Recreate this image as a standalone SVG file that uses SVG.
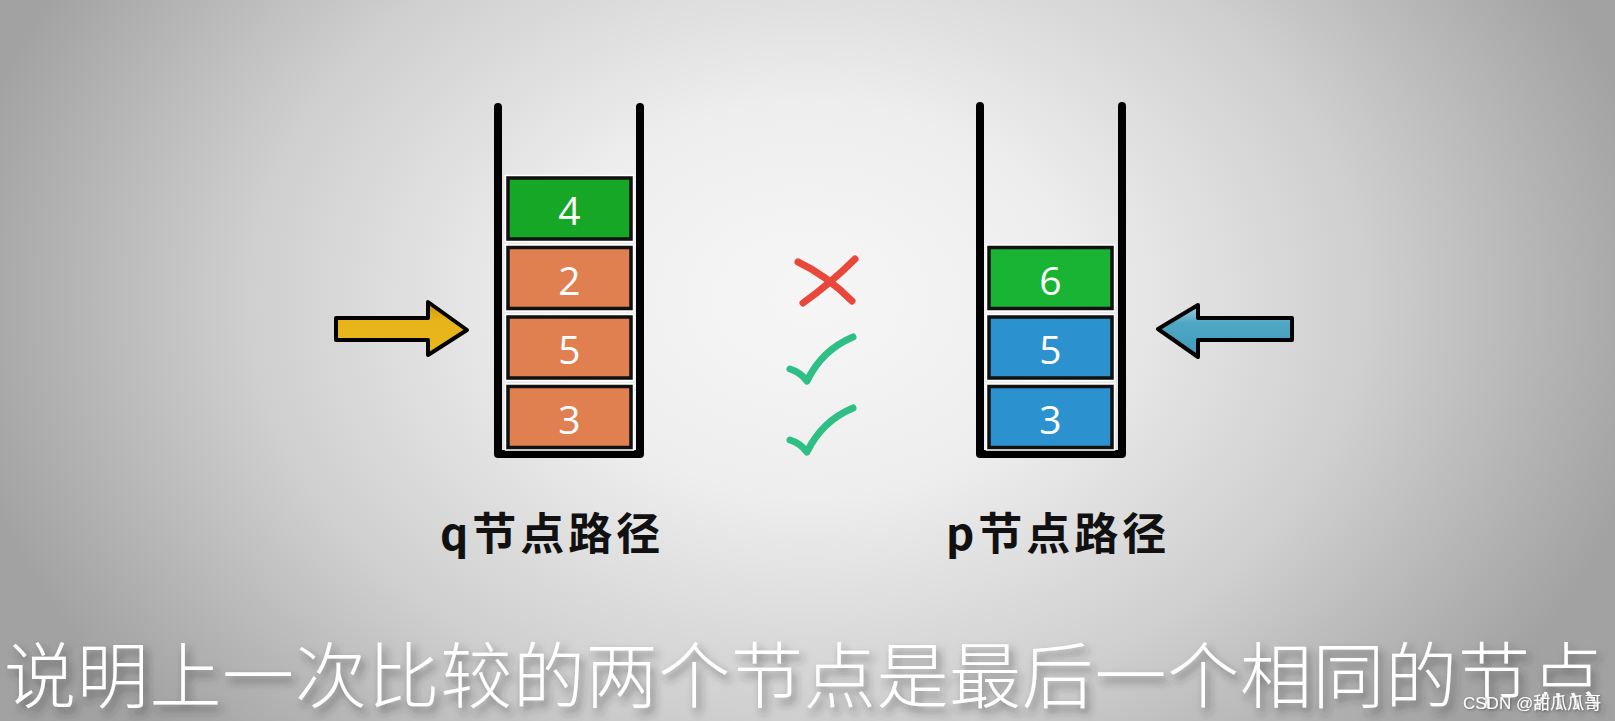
<svg xmlns="http://www.w3.org/2000/svg" width="1615" height="721" viewBox="0 0 1615 721">
<defs>
  <radialGradient id="bg" gradientUnits="userSpaceOnUse" cx="808" cy="300" r="860" gradientTransform="translate(0,75) scale(1,0.75)">
    <stop offset="0" stop-color="#f6f6f6"/>
    <stop offset="0.3" stop-color="#eeeeee"/>
    <stop offset="0.65" stop-color="#cfcfcf"/>
    <stop offset="1" stop-color="#a2a2a2"/>
  </radialGradient>
  <linearGradient id="yel" x1="0" y1="0" x2="0" y2="1">
    <stop offset="0" stop-color="#c7980f"/>
    <stop offset="0.35" stop-color="#e7b419"/>
    <stop offset="1" stop-color="#e9b71c"/>
  </linearGradient>
  <linearGradient id="blu" x1="0" y1="0" x2="0" y2="1">
    <stop offset="0" stop-color="#9fd3e0"/>
    <stop offset="0.35" stop-color="#4ea6c2"/>
    <stop offset="1" stop-color="#3d9bbd"/>
  </linearGradient>
  <filter id="sh" x="-5%" y="-30%" width="110%" height="160%">
    <feDropShadow dx="4" dy="6" stdDeviation="4" flood-color="#333" flood-opacity="0.55"/>
  </filter>
  <filter id="wm" x="-5%" y="-30%" width="110%" height="160%">
    <feDropShadow dx="1" dy="1" stdDeviation="0.8" flood-color="#555" flood-opacity="0.8"/>
  </filter>
</defs>
<style>
  .wall{fill:none;stroke:#000;stroke-width:8;stroke-linecap:round;stroke-linejoin:round}
  .halo{fill:none;stroke:#fff;stroke-width:1.6}
  .box{stroke:#111;stroke-width:3.5}
  .green4{fill:#17a726}
  .green6{fill:#19b433}
  .org{fill:#e07f50}
  .blue{fill:#2b91cf}
  .dig{fill:#fff;font-family:"Open Sans","Noto Sans",sans-serif;font-size:39px;text-anchor:middle}
  .lbl{fill:#111;font-family:"Noto Sans CJK SC","Noto Sans",sans-serif;font-weight:bold;font-size:44px;letter-spacing:4px}
  .sub{fill:#fff;font-family:"Noto Sans CJK SC",sans-serif;font-weight:300;font-size:72px;letter-spacing:0.7px}
  .cross{fill:none;stroke:#e8473a;stroke-width:7;stroke-linecap:round}
  .tick{fill:none;stroke:#2dbf86;stroke-width:7;stroke-linecap:round;stroke-linejoin:round}
  .arr{stroke:#000;stroke-width:4;stroke-linejoin:round}
</style>
<rect x="0" y="0" width="1615" height="721" fill="url(#bg)"/>

<g id="q-stack">
  <path class="wall" d="M498,107 V454 H640 V107"/>
  <g id="q4">
    <rect class="halo" x="505.5" y="175.5" width="128" height="66"/>
    <rect class="box green4" x="508" y="178" width="123" height="61"/>
    <text class="dig" x="569.5" y="225">4</text>
  </g>
  <g id="q2">
    <rect class="halo" x="505.5" y="245" width="128" height="66"/>
    <rect class="box org" x="508" y="247.5" width="123" height="61"/>
    <text class="dig" x="569.5" y="294.5">2</text>
  </g>
  <g id="q5">
    <rect class="halo" x="505.5" y="314.5" width="128" height="66"/>
    <rect class="box org" x="508" y="317" width="123" height="61"/>
    <text class="dig" x="569.5" y="364">5</text>
  </g>
  <g id="q3">
    <rect class="halo" x="505.5" y="384" width="128" height="66"/>
    <rect class="box org" x="508" y="386.5" width="123" height="61"/>
    <text class="dig" x="569.5" y="433.5">3</text>
  </g>
</g>

<g id="p-stack">
  <path class="wall" d="M980,106 V454 H1122 V106"/>
  <g id="p6">
    <rect class="halo" x="986.5" y="245" width="128" height="66"/>
    <rect class="box green6" x="989" y="247.5" width="123" height="61"/>
    <text class="dig" x="1050.5" y="294.5">6</text>
  </g>
  <g id="p5">
    <rect class="halo" x="986.5" y="314.5" width="128" height="66"/>
    <rect class="box blue" x="989" y="317" width="123" height="61"/>
    <text class="dig" x="1050.5" y="364">5</text>
  </g>
  <g id="p3">
    <rect class="halo" x="986.5" y="384" width="128" height="66"/>
    <rect class="box blue" x="989" y="386.5" width="123" height="61"/>
    <text class="dig" x="1050.5" y="433.5">3</text>
  </g>
</g>

<g id="connectors">
  <path id="q-arrow" class="arr" fill="url(#yel)" d="M336,318 H428 V302 L467,330 L428,355 V340 H336 Z"/>
  <path id="p-arrow" class="arr" fill="url(#blu)" d="M1292,318 H1198 V305 L1158,329 L1198,357 V340 H1292 Z"/>
</g>

<g id="marks">
  <path class="cross" d="M798,262 Q826,275 852,301"/>
  <path class="cross" d="M855,259 Q831,283 803,303"/>
  <path class="tick" d="M790,369 Q800,372 807,381 Q822,350 853,337"/>
  <path class="tick" d="M790,440 Q800,443 807,452 Q822,421 853,408"/>
</g>

<g id="labels">
  <text class="lbl" x="440" y="550">q节点路径</text>
  <text class="lbl" x="946" y="550">p节点路径</text>
</g>

<text class="sub" x="4" y="702" filter="url(#sh)">说明上一次比较的两个节点是最后一个相同的节点</text>
<text x="1463" y="709" filter="url(#wm)" style="fill:#fff;font-family:'Liberation Sans','Noto Sans CJK SC',sans-serif;font-size:17px">CSDN @甜瓜瓜哥</text>
</svg>
